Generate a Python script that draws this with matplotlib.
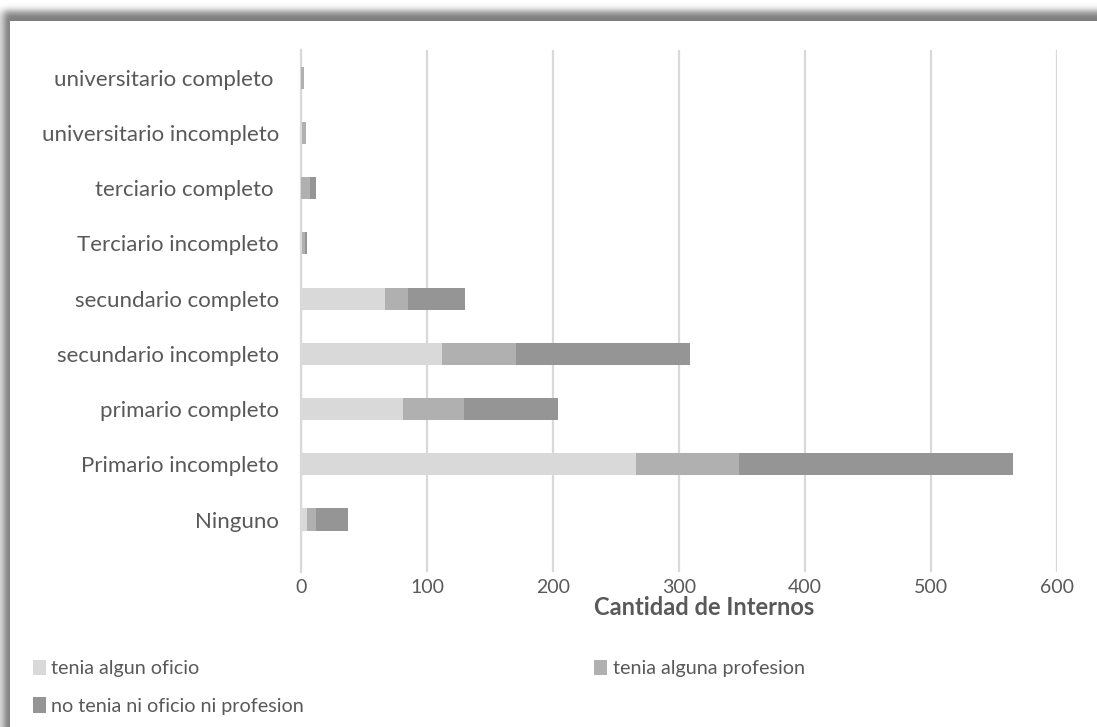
import numpy as np
import matplotlib
matplotlib.use("Agg")
import matplotlib.pyplot as plt
from matplotlib.patches import Patch

# Education level of inmates (bottom to top as drawn)
categorias = [
    "Ninguno",
    "Primario incompleto",
    "primario completo",
    "secundario incompleto",
    "secundario completo",
    "Terciario incompleto",
    "terciario completo ",
    "universitario incompleto",
    "universitario completo ",
]
oficio = [5, 266, 81, 112, 67, 1, 0, 1, 0]
profesion = [7, 82, 48, 59, 18, 2, 7, 3, 2]
sin_oficio = [25, 217, 75, 138, 45, 2, 5, 0, 0]

series_labels = ["tenia algun oficio", "tenia alguna profesion",
                 "no tenia ni oficio ni profesion"]
x_ticks = [0, 100, 200, 300, 400, 500, 600]

colors = ["#d9d9d9", "#b0b0b0", "#959595"]
text_color = "#595959"
grid_color = "#d9d9d9"

plt.rcParams["font.family"] = ["Lato", "DejaVu Sans"]

W, H = 1097, 727
fig = plt.figure(figsize=(W / 100, H / 100), dpi=100)

# Drop shadow framing the chart panel (top and left edges)
bg = fig.add_axes([0, 0, 1, 1], zorder=-10)
bg.set_axis_off()
yy, xx = np.mgrid[0:H, 0:W]
mask = ((yy >= 11) & (xx >= 3)).astype(float)


def box_blur(a, r, axis):
    k = np.ones(2 * r + 1) / (2 * r + 1)
    return np.apply_along_axis(lambda v: np.convolve(np.pad(v, r, mode="edge"), k, mode="valid"), axis, a)


sh = mask
for _ in range(3):
    sh = box_blur(sh, 3, 0)
    sh = box_blur(sh, 3, 1)
img = 1 - 0.5 * sh
img[(yy >= 21) & (xx >= 10)] = 1.0
bg.imshow(np.dstack([img, img, img]), extent=[0, W, H, 0], aspect="auto",
          interpolation="bilinear")
bg.set_xlim(0, W)
bg.set_ylim(H, 0)

# Main stacked horizontal bar chart
left, right, top, bottom = 301, 1057, 50, 572
ax = fig.add_axes([left / W, 1 - bottom / H, (right - left) / W, (bottom - top) / H])
ax.set_facecolor("none")

y = np.arange(len(categorias))
base = np.zeros(len(categorias))
handles = []
for vals, col, lab in zip([oficio, profesion, sin_oficio], colors, series_labels):
    ax.barh(y, vals, left=base, height=0.4, color=col, zorder=3, label=lab)
    base = base + np.array(vals)
    handles.append(Patch(facecolor=col, edgecolor="none", label=lab))

ax.set_xlim(0, 600)
ax.set_ylim(-0.95, 8.5)
ax.set_xticks(x_ticks)
ax.set_xticklabels([str(t) for t in x_ticks])
ax.set_yticks(y)
ax.set_yticklabels(categorias)
ax.tick_params(axis="both", length=0, colors=text_color)
ax.tick_params(axis="x", pad=5, labelsize=14)
ax.tick_params(axis="y", pad=16, labelsize=16)
ax.xaxis.grid(True, color=grid_color, linewidth=1.6, zorder=0)
ax.set_axisbelow(True)
for s in ["top", "right", "bottom"]:
    ax.spines[s].set_visible(False)
ax.spines["left"].set_color(grid_color)
ax.spines["left"].set_linewidth(1.6)

ax.set_xlabel("Cantidad de Internos", fontsize=17, fontweight="bold", color=text_color)
ax.xaxis.set_label_coords(0.533, -0.068)
ax.xaxis.label.set_va("center")

# Legend: two columns, filled row by row
leg = fig.legend([handles[0], handles[2], handles[1]],
                 [series_labels[0], series_labels[2], series_labels[1]],
                 ncol=2, loc="upper left", bbox_to_anchor=(15 / W, 1 - 642 / H),
                 frameon=False, fontsize=14.2, handlelength=0.65, handleheight=0.85,
                 handletextpad=0.3, labelspacing=1.0, columnspacing=14.7,
                 labelcolor=text_color)

fig.savefig("out.png", dpi=100, facecolor="white")
